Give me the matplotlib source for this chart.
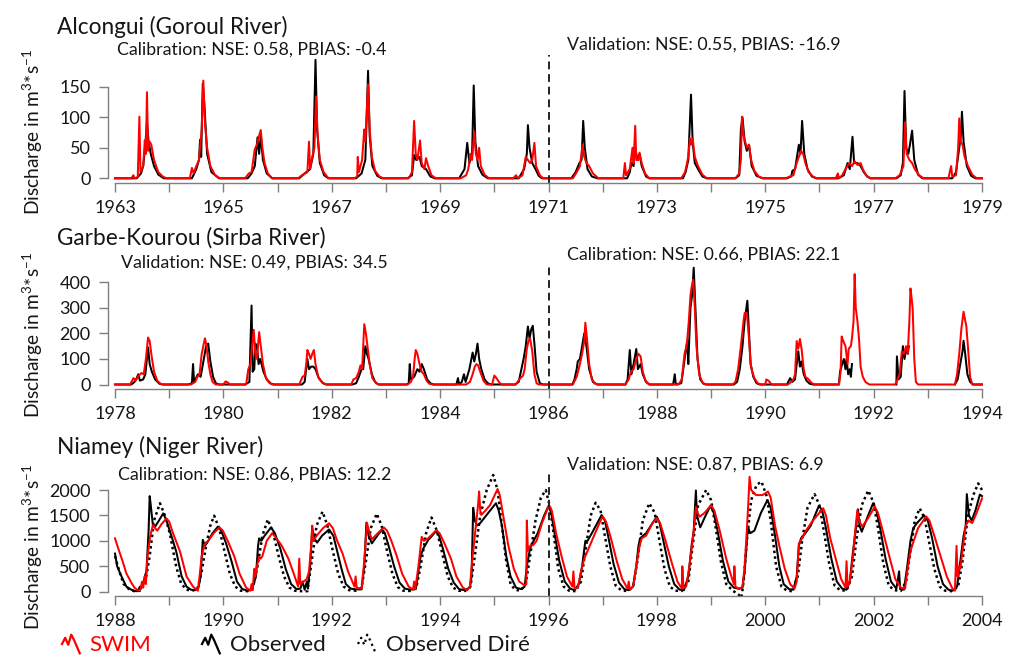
import numpy as np
import matplotlib
matplotlib.use("Agg")
import matplotlib.pyplot as plt
from matplotlib.lines import Line2D
from matplotlib.legend_handler import HandlerBase

plt.rcParams["font.family"] = ["Lato", "DejaVu Sans"]
plt.rcParams["mathtext.fontset"] = "custom"
plt.rcParams["mathtext.rm"] = "Lato"
plt.rcParams["mathtext.default"] = "regular"

nan = float("nan")

# ---------------------------------------------------------------- data
# Alcongui (Goroul River), daily discharge (year, m3/s)
alc_obs = [
    (1963.00, 0), (1963.40, 0), (1963.48, 8), (1963.52, 20), (1963.56, 55), (1963.59, 93), (1963.62, 60),
    (1963.66, 40), (1963.72, 20), (1963.80, 6), (1963.90, 0),
    (1964.42, 0), (1964.50, 15), (1964.55, 30), (1964.57, 63), (1964.59, 35), (1964.62, 155), (1964.65, 120),
    (1964.70, 40), (1964.78, 10), (1964.92, 0),
    (1965.45, 0), (1965.52, 8), (1965.58, 20), (1965.63, 67), (1965.66, 40), (1965.69, 70), (1965.73, 30),
    (1965.80, 8), (1965.90, 0),
    (1966.40, 0), (1966.50, 8), (1966.60, 15), (1966.66, 40), (1966.70, 194), (1966.73, 80), (1966.78, 25),
    (1966.86, 5), (1966.94, 0),
    (1967.45, 0), (1967.55, 8), (1967.62, 30), (1967.67, 176), (1967.70, 70), (1967.75, 20), (1967.84, 4),
    (1967.92, 0),
    (1968.40, 0), (1968.48, 5), (1968.52, 38), (1968.56, 30), (1968.62, 35), (1968.66, 20), (1968.74, 15),
    (1968.82, 3), (1968.90, 0),
    (1969.35, 0), (1969.45, 15), (1969.50, 58), (1969.54, 25), (1969.59, 40), (1969.62, 152), (1969.65, 60),
    (1969.70, 20), (1969.78, 6), (1969.88, 0),
    (1970.45, 0), (1970.55, 15), (1970.60, 40), (1970.62, 87), (1970.65, 50), (1970.70, 25), (1970.76, 15),
    (1970.82, 4), (1970.88, 0),
    (1971.42, 0), (1971.50, 10), (1971.57, 25), (1971.61, 30), (1971.64, 94), (1971.67, 50), (1971.72, 15),
    (1971.80, 3), (1971.90, 0),
    (1972.45, 0), (1972.50, 10), (1972.53, 25), (1972.57, 20), (1972.60, 50), (1972.64, 30), (1972.68, 40),
    (1972.72, 20), (1972.80, 3), (1972.86, 0),
    (1973.48, 0), (1973.53, 10), (1973.58, 30), (1973.63, 137), (1973.66, 60), (1973.70, 25), (1973.76, 15),
    (1973.84, 3), (1973.92, 0),
    (1974.45, 0), (1974.52, 5), (1974.55, 80), (1974.58, 100), (1974.62, 60), (1974.66, 45), (1974.70, 55),
    (1974.75, 20), (1974.84, 4), (1974.95, 0),
    (1975.40, 0), (1975.48, 3), (1975.50, 12), (1975.55, 15), (1975.62, 55), (1975.65, 40), (1975.68, 94),
    (1975.72, 40), (1975.78, 15), (1975.86, 3), (1975.94, 0),
    (1976.35, 0), (1976.45, 5), (1976.52, 25), (1976.56, 15), (1976.61, 68), (1976.64, 25), (1976.70, 25),
    (1976.76, 20), (1976.82, 10), (1976.88, 3), (1976.94, 0),
    (1977.42, 0), (1977.50, 5), (1977.54, 25), (1977.57, 143), (1977.60, 50), (1977.64, 40), (1977.67, 55),
    (1977.71, 78), (1977.75, 30), (1977.82, 6), (1977.90, 0),
    (1978.45, 0), (1978.52, 10), (1978.58, 50), (1978.61, 70), (1978.63, 109), (1978.66, 60), (1978.72, 20),
    (1978.80, 4), (1978.88, 0), (1979.00, 0),
]
alc_swim = [
    (1963.00, 0), (1963.30, 0), (1963.34, 5), (1963.36, 0), (1963.42, 2), (1963.45, 101), (1963.47, 10),
    (1963.52, 20), (1963.55, 62), (1963.57, 40), (1963.59, 141), (1963.61, 45), (1963.64, 60), (1963.67, 55),
    (1963.72, 30), (1963.80, 10), (1963.88, 3), (1963.95, 0),
    (1964.38, 0), (1964.42, 17), (1964.45, 8), (1964.50, 20), (1964.55, 30), (1964.60, 80), (1964.63, 160),
    (1964.66, 90), (1964.70, 50), (1964.76, 20), (1964.84, 6), (1964.93, 0),
    (1965.40, 0), (1965.47, 8), (1965.52, 10), (1965.58, 48), (1965.62, 55), (1965.66, 70), (1965.69, 79),
    (1965.72, 50), (1965.76, 25), (1965.82, 8), (1965.90, 0),
    (1966.38, 0), (1966.45, 5), (1966.55, 10), (1966.58, 60), (1966.60, 15), (1966.64, 35), (1966.68, 50),
    (1966.71, 134), (1966.74, 70), (1966.78, 30), (1966.85, 10), (1966.94, 0),
    (1967.42, 0), (1967.47, 3), (1967.48, 35), (1967.50, 10), (1967.56, 30), (1967.60, 80), (1967.62, 60),
    (1967.67, 154), (1967.70, 80), (1967.74, 35), (1967.80, 12), (1967.88, 3), (1967.95, 0),
    (1968.42, 0), (1968.48, 10), (1968.52, 94), (1968.55, 40), (1968.58, 30), (1968.63, 62), (1968.66, 25),
    (1968.71, 15), (1968.74, 33), (1968.78, 20), (1968.84, 5), (1968.92, 0),
    (1969.38, 0), (1969.48, 5), (1969.52, 15), (1969.56, 40), (1969.59, 30), (1969.63, 77), (1969.66, 40),
    (1969.69, 30), (1969.72, 50), (1969.75, 20), (1969.82, 6), (1969.90, 0),
    (1970.35, 0), (1970.40, 5), (1970.44, 0), (1970.52, 5), (1970.58, 35), (1970.62, 30), (1970.66, 25),
    (1970.70, 30), (1970.74, 58), (1970.77, 20), (1970.84, 5), (1970.90, 0),
    (1971.45, 0), (1971.52, 10), (1971.58, 20), (1971.63, 55), (1971.66, 35), (1971.70, 25), (1971.75, 20),
    (1971.82, 8), (1971.92, 0),
    (1972.38, 0), (1972.41, 25), (1972.43, 5), (1972.50, 15), (1972.55, 50), (1972.57, 25), (1972.60, 86),
    (1972.62, 30), (1972.66, 30), (1972.68, 42), (1972.72, 25), (1972.78, 8), (1972.86, 0),
    (1973.45, 0), (1973.52, 10), (1973.58, 35), (1973.61, 65), (1973.63, 55), (1973.66, 65), (1973.70, 35),
    (1973.76, 20), (1973.84, 6), (1973.92, 0),
    (1974.45, 0), (1974.52, 8), (1974.55, 30), (1974.57, 101), (1974.60, 70), (1974.63, 60), (1974.66, 50),
    (1974.70, 55), (1974.74, 30), (1974.80, 12), (1974.88, 3), (1974.96, 0),
    (1975.38, 0), (1975.45, 3), (1975.52, 5), (1975.58, 25), (1975.62, 35), (1975.66, 45), (1975.70, 40),
    (1975.74, 25), (1975.80, 10), (1975.88, 3), (1975.95, 0),
    (1976.30, 0), (1976.34, 8), (1976.36, 0), (1976.42, 5), (1976.48, 15), (1976.55, 25), (1976.60, 20),
    (1976.65, 28), (1976.70, 22), (1976.76, 25), (1976.80, 15), (1976.86, 5), (1976.94, 0),
    (1977.40, 0), (1977.48, 5), (1977.55, 20), (1977.58, 92), (1977.61, 40), (1977.66, 30), (1977.71, 25),
    (1977.76, 15), (1977.84, 5), (1977.92, 0),
    (1978.38, 0), (1978.43, 20), (1978.45, 3), (1978.52, 5), (1978.56, 50), (1978.58, 98), (1978.61, 60),
    (1978.64, 55), (1978.68, 35), (1978.74, 20), (1978.82, 6), (1978.90, 0), (1979.00, 0),
]

# Garbe-Kourou (Sirba River)
gk_obs = [
    (1978.00, 0), (1978.30, 0), (1978.36, 10), (1978.40, 25), (1978.43, 40), (1978.46, 15), (1978.52, 20),
    (1978.56, 40), (1978.61, 145), (1978.64, 80), (1978.68, 50), (1978.74, 20), (1978.82, 3), (1978.88, 0),
    (1979.35, 0), (1979.42, 5), (1979.44, 80), (1979.46, 10), (1979.53, 40), (1979.58, 30), (1979.64, 100),
    (1979.68, 150), (1979.72, 160), (1979.76, 90), (1979.81, 30), (1979.86, 5), (1979.92, 0),
    (1980.40, 0), (1980.48, 10), (1980.52, 309), (1980.54, 50), (1980.57, 60), (1980.59, 160), (1980.62, 150),
    (1980.65, 80), (1980.68, 100), (1980.74, 50), (1980.80, 20), (1980.88, 3), (1980.94, 0),
    (1981.45, 0), (1981.50, 10), (1981.55, 100), (1981.58, 60), (1981.62, 70), (1981.66, 70), (1981.70, 60),
    (1981.76, 25), (1981.84, 5), (1981.90, 0),
    (1982.38, 0), (1982.45, 5), (1982.50, 30), (1982.55, 60), (1982.58, 60), (1982.62, 150), (1982.65, 120),
    (1982.68, 100), (1982.74, 40), (1982.80, 10), (1982.86, 0),
    (1983.38, 0), (1983.42, 5), (1983.44, 80), (1983.46, 20), (1983.52, 30), (1983.58, 60), (1983.62, 50),
    (1983.66, 80), (1983.70, 60), (1983.76, 20), (1983.82, 5), (1983.88, 0),
    (1984.30, 0), (1984.33, 25), (1984.35, 0), (1984.40, 10), (1984.44, 40), (1984.47, 10), (1984.54, 60),
    (1984.60, 125), (1984.63, 90), (1984.66, 120), (1984.69, 160), (1984.72, 100), (1984.76, 60),
    (1984.82, 20), (1984.88, 5), (1984.94, 0),
    (1985.38, 0), (1985.45, 10), (1985.49, 50), (1985.54, 100), (1985.58, 150), (1985.62, 227), (1985.65, 180),
    (1985.68, 215), (1985.71, 230), (1985.74, 160), (1985.78, 50), (1985.84, 5), (1985.90, 0),
    (1986.44, 0), (1986.48, 20), (1986.52, 60), (1986.54, 90), (1986.58, 100), (1986.62, 150), (1986.66, 200),
    (1986.70, 150), (1986.75, 60), (1986.82, 10), (1986.90, 0),
    (1987.42, 0), (1987.46, 20), (1987.50, 135), (1987.53, 40), (1987.57, 80), (1987.62, 139), (1987.65, 60),
    (1987.70, 80), (1987.74, 40), (1987.80, 10), (1987.86, 0),
    (1988.30, 0), (1988.33, 40), (1988.35, 0), (1988.45, 5), (1988.50, 80), (1988.53, 130), (1988.56, 170),
    (1988.58, 80), (1988.62, 300), (1988.65, 350), (1988.68, 457), (1988.71, 300), (1988.75, 100),
    (1988.80, 20), (1988.86, 3), (1988.92, 0),
    (1989.42, 0), (1989.48, 10), (1989.53, 60), (1989.58, 150), (1989.62, 250), (1989.67, 328), (1989.70, 200),
    (1989.73, 80), (1989.78, 30), (1989.84, 5), (1989.90, 0),
    (1990.40, 0), (1990.46, 25), (1990.50, 10), (1990.55, 20), (1990.58, 80), (1990.61, 130), (1990.64, 70),
    (1990.67, 90), (1990.71, 40), (1990.76, 15), (1990.82, 3), (1990.88, 0),
    (1991.36, 0), (1991.38, 50), (1991.42, 80), (1991.45, 100), (1991.48, 60), (1991.50, 100), (1991.53, 40),
    (1991.56, 60), (1991.58, 30), (1991.60, 80), (1991.61, nan),
    (1992.42, 0), (1992.43, 110), (1992.46, 20), (1992.50, 30), (1992.54, 150), (1992.57, 100), (1992.60, 140),
    (1992.63, 120), (1992.65, 150), (1992.66, nan),
    (1993.50, 0), (1993.55, 20), (1993.60, 80), (1993.64, 130), (1993.66, 171), (1993.69, 120), (1993.73, 40),
    (1993.78, 10), (1993.84, 0), (1994.00, 0),
]
gk_swim = [
    (1978.00, 0), (1978.28, 0), (1978.34, 25), (1978.38, 15), (1978.44, 35), (1978.49, 45), (1978.53, 40),
    (1978.57, 100), (1978.61, 184), (1978.64, 170), (1978.67, 120), (1978.72, 50), (1978.78, 15),
    (1978.84, 3), (1978.90, 0),
    (1979.40, 0), (1979.48, 10), (1979.52, 30), (1979.56, 40), (1979.60, 120), (1979.64, 160), (1979.66, 181),
    (1979.69, 150), (1979.72, 90), (1979.76, 40), (1979.80, 10), (1979.86, 0),
    (1980.00, 0), (1980.04, 12), (1980.08, 8), (1980.12, 0),
    (1980.42, 0), (1980.46, 60), (1980.50, 80), (1980.53, 150), (1980.56, 214), (1980.59, 120), (1980.62, 100),
    (1980.64, 150), (1980.66, 205), (1980.69, 150), (1980.73, 80), (1980.78, 30), (1980.84, 8), (1980.90, 0),
    (1981.40, 0), (1981.46, 30), (1981.50, 35), (1981.53, 80), (1981.55, 135), (1981.58, 120), (1981.61, 100),
    (1981.64, 120), (1981.67, 135), (1981.70, 80), (1981.75, 30), (1981.82, 8), (1981.90, 0),
    (1982.36, 0), (1982.40, 20), (1982.45, 25), (1982.50, 50), (1982.53, 75), (1982.56, 60), (1982.60, 236),
    (1982.63, 200), (1982.66, 150), (1982.70, 80), (1982.75, 25), (1982.82, 5), (1982.88, 0),
    (1983.40, 0), (1983.46, 10), (1983.50, 30), (1983.53, 100), (1983.55, 135), (1983.58, 120), (1983.62, 80),
    (1983.66, 50), (1983.70, 40), (1983.75, 15), (1983.80, 3), (1983.86, 0),
    (1984.48, 0), (1984.55, 10), (1984.60, 40), (1984.64, 70), (1984.67, 80), (1984.70, 75), (1984.74, 50),
    (1984.80, 15), (1984.86, 0),
    (1984.96, 0), (1985.00, 35), (1985.04, 25), (1985.10, 5), (1985.15, 0),
    (1985.40, 0), (1985.46, 20), (1985.53, 35), (1985.56, 60), (1985.60, 140), (1985.63, 170), (1985.66, 181),
    (1985.70, 130), (1985.74, 40), (1985.78, 5), (1985.82, 0),
    (1986.45, 0), (1986.52, 30), (1986.58, 80), (1986.62, 120), (1986.66, 170), (1986.68, 242), (1986.71, 180),
    (1986.75, 80), (1986.80, 20), (1986.86, 3), (1986.92, 0),
    (1987.42, 0), (1987.48, 20), (1987.52, 50), (1987.57, 60), (1987.62, 100), (1987.66, 120), (1987.70, 110),
    (1987.74, 50), (1987.79, 15), (1987.86, 0),
    (1988.40, 0), (1988.46, 20), (1988.51, 120), (1988.55, 150), (1988.59, 250), (1988.62, 350), (1988.64, 380),
    (1988.67, 410), (1988.70, 300), (1988.73, 150), (1988.78, 40), (1988.84, 8), (1988.90, 0),
    (1989.40, 0), (1989.45, 10), (1989.50, 60), (1989.55, 150), (1989.60, 250), (1989.62, 280), (1989.66, 280),
    (1989.70, 180), (1989.73, 80), (1989.76, 50), (1989.80, 25), (1989.86, 5), (1989.92, 0),
    (1990.00, 0), (1990.02, 20), (1990.06, 15), (1990.12, 0),
    (1990.42, 0), (1990.48, 10), (1990.52, 20), (1990.55, 40), (1990.58, 170), (1990.61, 140), (1990.64, 178),
    (1990.67, 140), (1990.71, 60), (1990.74, 30), (1990.80, 20), (1990.86, 5), (1990.92, 0),
    (1991.36, 0), (1991.39, 50), (1991.41, 188), (1991.44, 170), (1991.48, 150), (1991.52, 80), (1991.54, 140),
    (1991.58, 150), (1991.60, 180), (1991.63, 250), (1991.65, 432), (1991.67, 300), (1991.70, 250),
    (1991.73, 180), (1991.76, 70), (1991.80, 30), (1991.85, 10), (1991.92, 0),
    (1992.40, 0), (1992.44, 20), (1992.48, 40), (1992.52, 130), (1992.56, 120), (1992.60, 150), (1992.63, 120),
    (1992.66, 250), (1992.68, 376), (1992.70, 340), (1992.72, 300), (1992.75, 100), (1992.78, 10),
    (1992.82, 0),
    (1993.50, 0), (1993.54, 40), (1993.58, 120), (1993.62, 220), (1993.66, 285), (1993.69, 250),
    (1993.71, 230), (1993.74, 150), (1993.78, 30), (1993.82, 0), (1994.00, 0),
]

# Niamey (Niger River)
nia_obs = [
    (1988.00, 750), (1988.04, 500), (1988.12, 300), (1988.21, 100), (1988.30, 40), (1988.36, 15),
    (1988.42, 10), (1988.46, 100), (1988.48, 60), (1988.52, 150), (1988.55, 300), (1988.58, 400),
    (1988.62, 1200), (1988.64, 1880), (1988.66, 1700), (1988.68, 1500), (1988.70, 1300), (1988.74, 1280),
    (1988.80, 1380), (1988.89, 1540), (1988.95, 1400), (1989.04, 1100), (1989.13, 790), (1989.23, 300),
    (1989.32, 100), (1989.40, 40), (1989.48, 30), (1989.54, 80), (1989.58, 300), (1989.62, 1020),
    (1989.66, 900), (1989.72, 1000), (1989.80, 1150), (1989.90, 1280), (1989.96, 1200),
    (1990.05, 950), (1990.15, 600), (1990.25, 200), (1990.35, 50), (1990.45, 20), (1990.52, 40),
    (1990.56, 150), (1990.60, 300), (1990.64, 900), (1990.66, 1050), (1990.70, 1000), (1990.76, 1100),
    (1990.88, 1265), (1990.95, 1150),
    (1991.05, 850), (1991.15, 450), (1991.25, 150), (1991.35, 50), (1991.42, 60), (1991.46, 200),
    (1991.50, 40), (1991.54, 200), (1991.56, 60), (1991.60, 500), (1991.64, 1245), (1991.68, 1050),
    (1991.73, 965), (1991.82, 1100), (1991.95, 1225),
    (1992.03, 1100), (1992.10, 800), (1992.18, 450), (1992.26, 150), (1992.35, 60), (1992.45, 45),
    (1992.55, 45), (1992.60, 500), (1992.64, 1360), (1992.68, 1100), (1992.74, 950), (1992.84, 1100),
    (1992.93, 1225), (1992.98, 1150),
    (1993.05, 900), (1993.15, 500), (1993.25, 180), (1993.35, 60), (1993.45, 40), (1993.55, 50),
    (1993.60, 400), (1993.64, 700), (1993.69, 850), (1993.78, 1015), (1993.93, 1195), (1993.98, 1100),
    (1994.05, 850), (1994.15, 450), (1994.25, 180), (1994.35, 50), (1994.45, 30), (1994.55, 80),
    (1994.58, 300), (1994.61, 1650), (1994.64, 1400), (1994.68, 1300), (1994.74, 1350), (1994.86, 1510),
    (1995.03, 1740), (1995.08, 1600),
    (1995.14, 1300), (1995.22, 700), (1995.30, 300), (1995.40, 80), (1995.50, 50), (1995.56, 100),
    (1995.60, 500), (1995.66, 850), (1995.70, 950), (1995.80, 1150), (1995.92, 1500), (1996.00, 1685),
    (1996.05, 1550),
    (1996.12, 1100), (1996.20, 600), (1996.30, 200), (1996.40, 60), (1996.48, 30), (1996.56, 150),
    (1996.62, 500), (1996.68, 1000), (1996.72, 1000), (1996.80, 1150), (1996.90, 1350), (1996.98, 1508),
    (1997.04, 1400),
    (1997.10, 1100), (1997.20, 550), (1997.30, 180), (1997.40, 50), (1997.48, 30), (1997.56, 100),
    (1997.62, 500), (1997.66, 900), (1997.69, 1050), (1997.80, 1150), (1997.92, 1350), (1998.00, 1475),
    (1998.05, 1350),
    (1998.12, 1000), (1998.22, 500), (1998.32, 150), (1998.42, 40), (1998.50, 30), (1998.58, 300),
    (1998.64, 900), (1998.68, 1200), (1998.72, 1990), (1998.74, 1500), (1998.80, 1265), (1998.90, 1500),
    (1998.99, 1690), (1999.05, 1550),
    (1999.12, 1200), (1999.22, 600), (1999.32, 200), (1999.42, 80), (1999.50, 60), (1999.58, 80),
    (1999.62, 400), (1999.66, 1000), (1999.68, 1280), (1999.72, 1150), (1999.80, 1200), (1999.92, 1550),
    (2000.04, 1800), (2000.10, 1650),
    (2000.18, 1100), (2000.26, 500), (2000.34, 150), (2000.44, 50), (2000.52, 40), (2000.58, 300),
    (2000.62, 900), (2000.66, 1050), (2000.74, 1150), (2000.84, 1300), (2000.99, 1690), (2001.05, 1600),
    (2001.12, 1250), (2001.22, 650), (2001.32, 200), (2001.42, 60), (2001.50, 40), (2001.56, 200),
    (2001.62, 800), (2001.68, 1300), (2001.71, 1620), (2001.74, 1300), (2001.78, 1180), (2001.88, 1450),
    (2001.99, 1740), (2002.05, 1600),
    (2002.12, 1250), (2002.22, 650), (2002.32, 200), (2002.42, 60), (2002.47, 400), (2002.49, 50),
    (2002.56, 40), (2002.62, 500), (2002.68, 1000), (2002.73, 1245), (2002.80, 1350), (2002.93, 1500),
    (2003.00, 1400),
    (2003.08, 1050), (2003.18, 500), (2003.28, 150), (2003.38, 40), (2003.46, 20), (2003.54, 100),
    (2003.60, 600), (2003.66, 1100), (2003.70, 1300), (2003.72, 1920), (2003.76, 1500), (2003.81, 1400),
    (2003.88, 1600), (2003.96, 1910), (2004.00, 1880),
]
nia_swim = [
    (1988.00, 1050), (1988.06, 850), (1988.14, 600), (1988.21, 360), (1988.30, 180), (1988.36, 80),
    (1988.43, 20), (1988.47, 50), (1988.50, 200), (1988.52, 80), (1988.55, 300), (1988.57, 150),
    (1988.60, 700), (1988.65, 1100), (1988.70, 1310), (1988.74, 1250), (1988.78, 1200), (1988.86, 1330),
    (1988.95, 1440), (1989.00, 1380), (1989.07, 1150), (1989.20, 790), (1989.32, 300), (1989.44, 100),
    (1989.53, 20), (1989.56, 300), (1989.60, 700), (1989.65, 920), (1989.72, 1000), (1989.82, 1150),
    (1989.93, 1265), (1989.99, 1200),
    (1990.08, 1000), (1990.20, 700), (1990.30, 350), (1990.42, 80), (1990.50, 20), (1990.52, 150),
    (1990.54, 30), (1990.57, 450), (1990.59, 300), (1990.62, 500), (1990.66, 690), (1990.69, 650),
    (1990.72, 700), (1990.80, 1000), (1990.90, 1150), (1990.98, 1050),
    (1991.08, 900), (1991.20, 650), (1991.30, 350), (1991.38, 100), (1991.40, 650), (1991.42, 150),
    (1991.48, 200), (1991.54, 250), (1991.58, 400), (1991.62, 900), (1991.64, 1300), (1991.66, 1000),
    (1991.72, 1100), (1991.84, 1250), (1991.95, 1345), (1992.02, 1250),
    (1992.10, 1000), (1992.20, 750), (1992.30, 400), (1992.42, 100), (1992.44, 300), (1992.46, 80),
    (1992.55, 60), (1992.60, 600), (1992.65, 1350), (1992.70, 1150), (1992.74, 1030), (1992.85, 1150),
    (1992.96, 1265), (1993.02, 1200),
    (1993.10, 1000), (1993.20, 700), (1993.30, 350), (1993.42, 100), (1993.50, 40), (1993.52, 200),
    (1993.54, 50), (1993.60, 500), (1993.66, 1080), (1993.70, 1000), (1993.78, 1050), (1993.93, 1210),
    (1993.99, 1150),
    (1994.08, 950), (1994.20, 650), (1994.30, 300), (1994.42, 80), (1994.50, 30), (1994.55, 100),
    (1994.60, 700), (1994.66, 1300), (1994.70, 1700), (1994.72, 1970), (1994.74, 1600), (1994.76, 1510),
    (1994.84, 1600), (1994.92, 1700), (1995.06, 2020), (1995.10, 1900),
    (1995.18, 1400), (1995.26, 900), (1995.36, 450), (1995.46, 200), (1995.55, 130), (1995.59, 150),
    (1995.60, 1400), (1995.62, 800), (1995.66, 900), (1995.72, 920), (1995.78, 1000), (1995.88, 1350),
    (1996.01, 1705), (1996.06, 1600),
    (1996.14, 1150), (1996.24, 700), (1996.34, 300), (1996.44, 100), (1996.46, 400), (1996.48, 60),
    (1996.54, 80), (1996.60, 400), (1996.66, 650), (1996.74, 850), (1996.84, 1100), (1996.94, 1350),
    (1997.00, 1480), (1997.06, 1380),
    (1997.14, 1100), (1997.26, 600), (1997.36, 250), (1997.46, 60), (1997.48, 200), (1997.50, 40),
    (1997.56, 100), (1997.62, 500), (1997.68, 900), (1997.72, 1050), (1997.80, 1100), (1997.92, 1350),
    (1998.00, 1450), (1998.06, 1350),
    (1998.16, 1000), (1998.28, 550), (1998.38, 200), (1998.46, 60), (1998.47, 500), (1998.49, 80),
    (1998.54, 100), (1998.60, 500), (1998.66, 1000), (1998.70, 1400), (1998.72, 1670), (1998.75, 1550),
    (1998.79, 1475), (1998.88, 1550), (1999.00, 1700), (1999.06, 1600),
    (1999.16, 1200), (1999.28, 650), (1999.36, 350), (1999.42, 150), (1999.43, 500), (1999.45, 100),
    (1999.52, 50), (1999.58, 100), (1999.62, 500), (1999.66, 1200), (1999.69, 1800), (1999.71, 2260),
    (1999.74, 2000), (1999.83, 1900), (1999.95, 1900), (2000.05, 1970), (2000.10, 1850),
    (2000.18, 1300), (2000.26, 900), (2000.36, 450), (2000.46, 150), (2000.54, 60), (2000.58, 200),
    (2000.62, 950), (2000.68, 1050), (2000.75, 1200), (2000.88, 1400), (2001.07, 1640), (2001.12, 1500),
    (2001.20, 1050), (2001.30, 650), (2001.40, 250), (2001.48, 80), (2001.50, 600), (2001.52, 100),
    (2001.56, 200), (2001.62, 700), (2001.66, 1200), (2001.70, 1600), (2001.73, 1400), (2001.79, 1280),
    (2001.90, 1450), (2002.02, 1670), (2002.08, 1550),
    (2002.18, 1150), (2002.30, 650), (2002.40, 250), (2002.50, 80), (2002.58, 60), (2002.62, 400),
    (2002.68, 800), (2002.74, 1000), (2002.82, 1250), (2002.97, 1480), (2003.03, 1400),
    (2003.12, 1100), (2003.25, 650), (2003.35, 300), (2003.45, 70), (2003.50, 20), (2003.53, 900),
    (2003.55, 300), (2003.58, 500), (2003.60, 450), (2003.64, 800), (2003.70, 1300), (2003.75, 1400),
    (2003.82, 1350), (2003.90, 1550), (2004.00, 1835),
]
nia_dire = [
    (1988.00, 700), (1988.08, 400), (1988.16, 150), (1988.26, 50), (1988.36, 10), (1988.46, 20),
    (1988.56, 200), (1988.64, 700), (1988.72, 1400), (1988.83, 1740), (1988.92, 1500), (1989.01, 1150),
    (1989.13, 490), (1989.22, 160), (1989.32, 40), (1989.42, 20), (1989.52, 50), (1989.60, 400),
    (1989.68, 900), (1989.76, 1300), (1989.83, 1495), (1989.92, 1250), (1990.02, 800), (1990.12, 350),
    (1990.22, 100), (1990.32, 20), (1990.45, 10), (1990.55, 100), (1990.63, 500), (1990.72, 1100),
    (1990.82, 1420), (1990.92, 1150), (1991.02, 700), (1991.12, 300), (1991.22, 80), (1991.32, 20),
    (1991.45, 10), (1991.55, 10), (1991.63, 600), (1991.72, 1300), (1991.83, 1575), (1991.92, 1300),
    (1992.02, 800), (1992.12, 350), (1992.22, 100), (1992.32, 30), (1992.45, 20), (1992.55, 80),
    (1992.63, 600), (1992.72, 1250), (1992.83, 1535), (1992.92, 1300), (1993.02, 800), (1993.12, 350),
    (1993.22, 90), (1993.32, 20), (1993.45, 15), (1993.56, 80), (1993.64, 500), (1993.74, 1150),
    (1993.84, 1460), (1993.94, 1200), (1994.04, 750), (1994.14, 300), (1994.24, 80), (1994.34, 20),
    (1994.46, 15), (1994.56, 100), (1994.64, 700), (1994.74, 1500), (1994.86, 2000), (1994.98, 2295),
    (1995.06, 2000), (1995.14, 1300), (1995.22, 600), (1995.30, 150), (1995.38, 40), (1995.48, 20),
    (1995.58, 150), (1995.66, 700), (1995.76, 1400), (1995.86, 1850), (1995.95, 2000), (1996.02, 1700),
    (1996.10, 1100), (1996.18, 450), (1996.28, 100), (1996.38, 20), (1996.50, 10), (1996.60, 200),
    (1996.68, 800), (1996.78, 1500), (1996.87, 1750), (1996.96, 1600), (1997.04, 1100), (1997.14, 500),
    (1997.24, 120), (1997.34, 30), (1997.46, 10), (1997.56, 100), (1997.64, 600), (1997.74, 1400),
    (1997.86, 1740), (1997.96, 1550), (1998.04, 1050), (1998.14, 450), (1998.24, 100), (1998.34, 20),
    (1998.46, 15), (1998.58, 200), (1998.66, 900), (1998.76, 1700), (1998.91, 2000), (1999.00, 1800),
    (1999.08, 1300), (1999.18, 600), (1999.28, 150), (1999.40, 20), (1999.50, -50), (1999.56, -120),
    (1999.60, 200), (1999.66, 1000), (1999.74, 1800), (1999.84, 2100), (1999.93, 2165), (2000.02, 1900),
    (2000.10, 1400), (2000.20, 500), (2000.30, 100), (2000.40, 20), (2000.50, 10), (2000.60, 300),
    (2000.68, 1000), (2000.78, 1650), (2000.91, 1920), (2001.00, 1700), (2001.08, 1200), (2001.18, 550),
    (2001.28, 120), (2001.38, 30), (2001.50, 20), (2001.60, 300), (2001.68, 1000), (2001.78, 1700),
    (2001.90, 1990), (2002.00, 1750), (2002.08, 1250), (2002.18, 550), (2002.28, 120), (2002.38, 30),
    (2002.50, 15), (2002.60, 200), (2002.68, 800), (2002.76, 1400), (2002.85, 1640), (2002.94, 1450),
    (2003.02, 1000), (2003.12, 450), (2003.22, 100), (2003.32, 20), (2003.45, 10), (2003.56, 100),
    (2003.64, 600), (2003.74, 1500), (2003.84, 1900), (2003.93, 2130), (2004.00, 2000),
]

titles = ["Alcongui (Goroul River)", "Garbe-Kourou (Sirba River)", "Niamey (Niger River)"]
year_ranges = [(1963, 1979), (1978, 1994), (1988, 2004)]
split_years = [1971, 1986, 1996]
y_tops = [150, 400, 2000]
y_steps = [50, 100, 500]
left_stats = ["Calibration: NSE: 0.58, PBIAS: -0.4",
              "Validation: NSE: 0.49, PBIAS: 34.5",
              "Calibration: NSE: 0.86, PBIAS: 12.2"]
right_stats = ["Validation: NSE: 0.55, PBIAS: -16.9",
               "Calibration: NSE: 0.66, PBIAS: 22.1",
               "Validation: NSE: 0.87, PBIAS: 6.9"]
legend_labels = ["SWIM", "Observed", "Observed Diré"]

# ---------------------------------------------------------------- layout (pixels)
W, H = 1024, 669
X0_PX, X1_PX = 115, 982            # first / last year tick
AX_L, AX_R = 108, 989               # axes box edges (y spine at left edge)
zero_px = [178.3, 384.5, 591.7]     # pixel row of q = 0
top_tick_px = [86.7, 282.3, 490.0]  # pixel row of the top y tick
spine_px = [182.7, 388.5, 596.0]    # pixel row of the x axis line
box_top_px = [55, 263, 470]
title_y = [26.7, 238.3, 446.7]
ylab_y = [131.7, 335.0, 546.7]
lstat_xy = [(117, 50), (121, 263), (118, 475)]
rstat_xy = [(567, 45), (567, 255), (567, 465)]

GREY = "#7f7f7f"
TXT = "#161616"
series_sets = [
    [(alc_obs, "black", "-"), (alc_swim, "red", "-")],
    [(gk_obs, "black", "-"), (gk_swim, "red", "-")],
    [(nia_dire, "black", (0, (1, 1.3))), (nia_obs, "black", "-"), (nia_swim, "red", "-")],
]

fig = plt.figure(figsize=(W / 100, H / 100), dpi=100)


def fy(px):
    return 1 - px / H


for i in range(3):
    y0, y1 = year_ranges[i]
    px_per_year = (X1_PX - X0_PX) / (y1 - y0)
    px_per_unit = (zero_px[i] - top_tick_px[i]) / y_tops[i]

    ax = fig.add_axes([AX_L / W, fy(spine_px[i]), (AX_R - AX_L) / W,
                       (spine_px[i] - box_top_px[i]) / H])
    ax.set_xlim(y0 - (X0_PX - AX_L) / px_per_year, y1 + (AX_R - X1_PX) / px_per_year)
    ax.set_ylim(-(spine_px[i] - zero_px[i]) / px_per_unit,
                (zero_px[i] - box_top_px[i]) / px_per_unit)

    for data, color, ls in series_sets[i]:
        t, q = zip(*data)
        lw = 1.8 if isinstance(ls, tuple) else 1.45
        ax.plot(t, np.array(q, dtype=float), color=color, linestyle=ls, linewidth=lw,
                solid_joinstyle="round")

    ax.axvline(split_years[i], ymin=0, ymax=1, color="#222222", linestyle=(0, (4, 2.5)),
               linewidth=1.4, clip_on=False)

    for s in ("top", "right"):
        ax.spines[s].set_visible(False)
    for s in ("left", "bottom"):
        ax.spines[s].set_color(GREY)
        ax.spines[s].set_linewidth(1.0)
    ax.spines["bottom"].set_bounds(y0, y1)
    ax.spines["left"].set_bounds(0, y_tops[i])

    years = list(range(y0, y1 + 1))
    ax.set_xticks(years)
    ax.set_xticklabels([str(y) if (y - y0) % 2 == 0 else "" for y in years])
    yt = list(range(0, y_tops[i] + 1, y_steps[i]))
    ax.set_yticks(yt)
    ax.set_yticklabels([str(v) for v in yt])
    ax.tick_params(axis="both", direction="out", length=6.5, width=1.0, color=GREY,
                   labelsize=13, labelcolor=TXT)
    ax.tick_params(axis="x", pad=6)
    ax.tick_params(axis="y", pad=6)
    ax.patch.set_visible(False)

    fig.text(57 / W, fy(title_y[i]), titles[i], fontsize=16.3, ha="left", va="center",
             color=TXT)
    fig.text(lstat_xy[i][0] / W, fy(lstat_xy[i][1]), left_stats[i], fontsize=12.8,
             ha="left", va="center", color=TXT)
    fig.text(rstat_xy[i][0] / W, fy(rstat_xy[i][1]), right_stats[i], fontsize=12.8,
             ha="left", va="center", color=TXT)
    fig.text(33 / W, fy(ylab_y[i]), "Discharge in m$^{3}$*s$^{-1}$", fontsize=13.8,
             rotation=90, ha="center", va="center", color=TXT)


class ZigzagHandler(HandlerBase):
    def create_artists(self, legend, orig_handle, xdescent, ydescent, width, height,
                       fontsize, trans):
        fx = np.array([0.0, 0.18, 0.35, 0.52, 0.68, 1.0])
        fyy = np.array([0.45, 0.85, 0.40, 1.05, 0.70, -0.15])
        line = Line2D(-xdescent + fx * width, -ydescent + fyy * height,
                      color=orig_handle.get_color(), linestyle=orig_handle.get_linestyle(),
                      linewidth=orig_handle.get_linewidth(), transform=trans)
        return [line]


leg_styles = [("red", "-", 1.6), ("black", "-", 1.6), ("black", ":", 1.6)]
leg_x = [62, 202, 358]
for label, (c, ls, lw), lx in zip(legend_labels, leg_styles, leg_x):
    h = Line2D([], [], color=c, linestyle=ls, linewidth=lw)
    lg = fig.legend([h], [label], loc="center left", bbox_to_anchor=(lx / W, fy(645)),
                    frameon=False, fontsize=16, handlelength=0.8, handletextpad=0.45,
                    borderaxespad=0, borderpad=0,
                    handler_map={Line2D: ZigzagHandler()})
    lg.get_texts()[0].set_color(c if c == "red" else TXT)

fig.savefig("out.png", dpi=100)
